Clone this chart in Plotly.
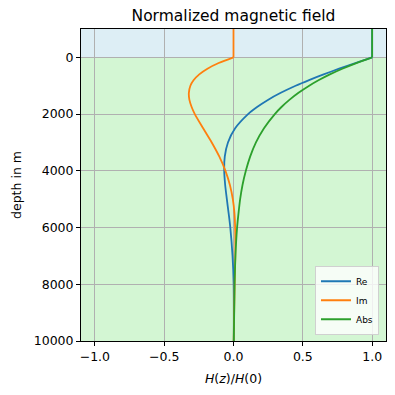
import plotly.graph_objects as go

depth = [-1000, 0, 200, 400, 600, 800, 1000, 1250, 1500, 1750, 2000, 2500, 3000,
         3500, 4000, 4500, 5000, 5500, 6000, 7000, 8000, 10000]
re_vals = [1.0, 1.0, 0.879, 0.762, 0.650, 0.545, 0.448, 0.341, 0.248, 0.170, 0.105,
           0.012, -0.040, -0.063, -0.067, -0.060, -0.048, -0.035, -0.023, -0.007, 0.001, 0.002]
im_vals = [0.0, 0.0, -0.107, -0.188, -0.247, -0.287, -0.311, -0.322, -0.318, -0.302, -0.279,
           -0.219, -0.157, -0.102, -0.058, -0.026, -0.005, 0.007, 0.012, 0.013, 0.008, 0.001]
abs_vals = [1.0, 1.0, 0.886, 0.785, 0.695, 0.616, 0.546, 0.469, 0.403, 0.346, 0.298,
            0.220, 0.162, 0.120, 0.089, 0.065, 0.048, 0.036, 0.026, 0.014, 0.008, 0.002]
y_ticks = [0, 2000, 4000, 6000, 8000, 10000]
y_ticktext = ["0", "2000", "4000", "6000", "8000", "10000"]
x_ticks = [-1.0, -0.5, 0.0, 0.5, 1.0]
x_ticktext = ["\u22121.0", "\u22120.5", "0.0", "0.5", "1.0"]

series = [("Re", re_vals, "#1f77b4"), ("Im", im_vals, "#ff7f0e"), ("Abs", abs_vals, "#2ca02c")]

fig = go.Figure()
for name, vals, col in series:
    fig.add_trace(go.Scatter(x=vals[:2], y=depth[:2], mode="lines", showlegend=False,
                             line=dict(color=col, width=1.8), hoverinfo="skip"))
for name, vals, col in series:
    fig.add_trace(go.Scatter(x=vals[1:], y=depth[1:], mode="lines", name=name,
                             line=dict(color=col, width=1.8, shape="spline", smoothing=0.8)))

fig.add_shape(type="rect", xref="paper", yref="y", x0=0, x1=1, y0=-1000, y1=0,
              fillcolor="rgb(221,238,245)", line_width=0, layer="below")
fig.add_shape(type="rect", xref="paper", yref="y", x0=0, x1=1, y0=0, y1=10000,
              fillcolor="rgb(211,246,211)", line_width=0, layer="below")

axis_common = dict(showline=True, linecolor="black", linewidth=1, mirror=True,
                   ticks="outside", ticklen=4, tickcolor="black", automargin=False,
                   showgrid=True, gridcolor="#b0b0b0", gridwidth=1, zeroline=False,
                   tickfont=dict(family="DejaVu Sans", size=12.5, color="black"))

fig.update_layout(
    width=395, height=395,
    margin=dict(l=73, r=17, t=21, b=62, autoexpand=False),
    paper_bgcolor="white", plot_bgcolor="white",
    title=dict(text="Normalized magnetic field", xref="paper", x=0.5, xanchor="center",
               yref="container", y=1 - 8 / 395, yanchor="middle",
               font=dict(family="DejaVu Sans", size=15.5, color="black")),
    xaxis=dict(range=[-1.1, 1.1], tickvals=x_ticks, ticktext=x_ticktext,
               title=dict(text="<i>H</i>(<i>z</i>)/<i>H</i>(0)", standoff=11,
                          font=dict(family="DejaVu Sans", size=12.5, color="black")),
               **axis_common),
    yaxis=dict(range=[10000, -1000], tickvals=y_ticks, ticktext=y_ticktext,
               title=dict(text="depth in m", standoff=9,
                          font=dict(family="DejaVu Sans", size=12.5, color="black")),
               **axis_common),
    legend=dict(x=0.977, y=0.02, xanchor="right", yanchor="bottom",
                bgcolor="rgba(255,255,255,0.8)", bordercolor="#d0d0d0", borderwidth=1,
                font=dict(family="DejaVu Sans", size=9, color="black"),
                tracegroupgap=0, itemwidth=30),
    showlegend=True,
)

fig.write_html("out.html")
